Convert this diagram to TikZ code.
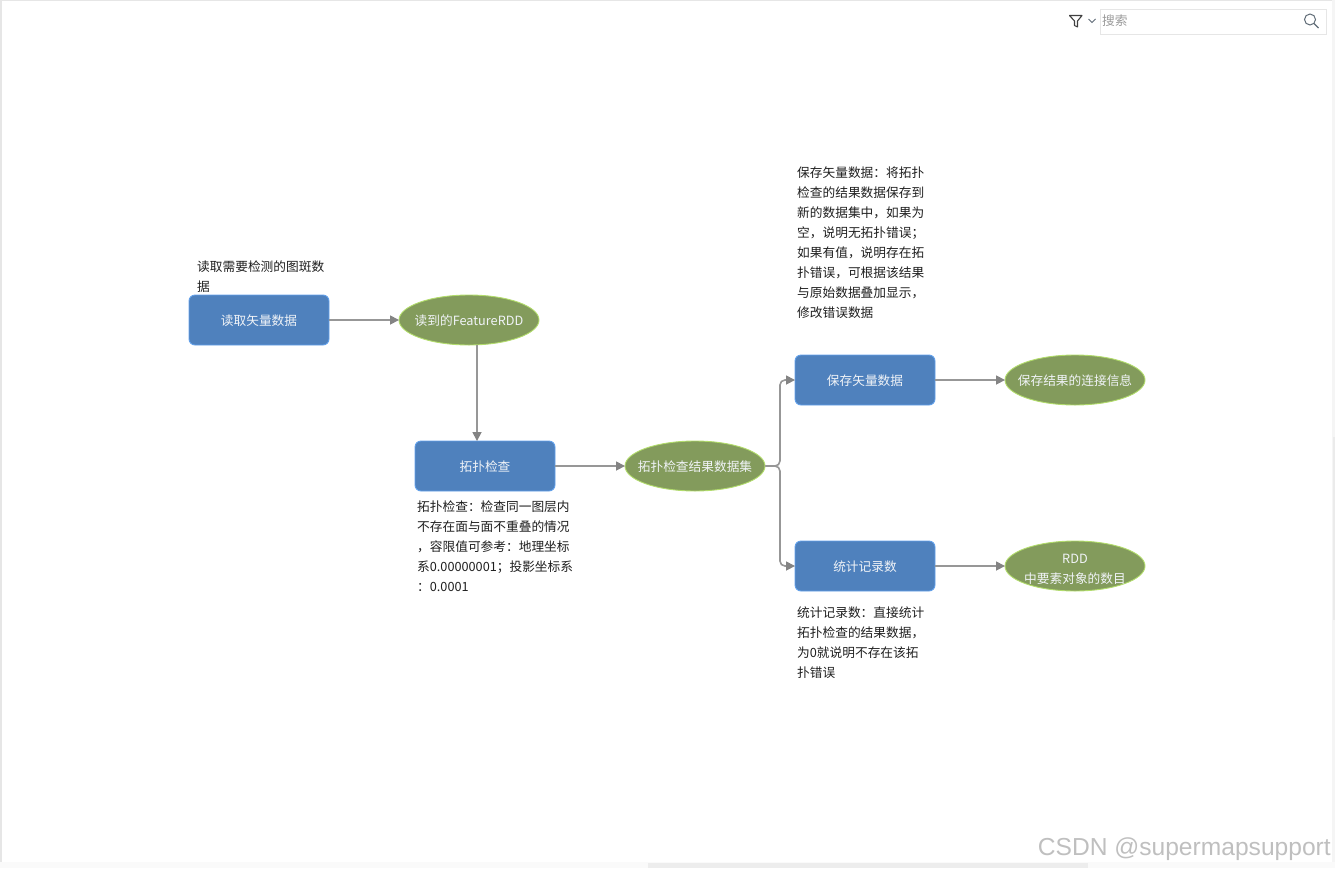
\documentclass[tikz,border=0pt]{standalone}
\usepackage{fontspec}
\setmainfont{Noto Sans CJK SC}
\newfontfamily\wmfont{Liberation Sans}
\usetikzlibrary{arrows.meta,shapes.geometric}
\definecolor{boxfill}{HTML}{4F81BD}
\definecolor{boxline}{HTML}{62A0EA}
\definecolor{ellfill}{HTML}{839B5C}
\definecolor{ellline}{HTML}{B2DC6C}
\definecolor{conn}{HTML}{979797}
\definecolor{tip}{HTML}{848484}
\definecolor{lab}{HTML}{F0F3F7}
\definecolor{note}{HTML}{1E1E1E}
\definecolor{chrome}{HTML}{E6E6E6}
\definecolor{toolgray}{HTML}{5F6B76}
\tikzset{
  every node/.style={font=\fontsize{12.7}{20}\selectfont},
  procbox/.style={draw=boxline,fill=boxfill,line width=0.9pt,rounded corners=6pt,
    minimum width=140pt,minimum height=50pt,inner sep=0pt,
    label={[text=lab,inner sep=0pt,yshift=-1pt]center:#1}},
  ellbase/.style={ellipse,draw=ellline,fill=ellfill,line width=0.9pt,
    minimum width=140pt,minimum height=50pt,inner sep=0pt},
  dataell/.style={ellbase,
    label={[text=lab,inner sep=0pt,align=center,yshift=-1pt]center:#1}},
  dataelllow/.style={ellbase,
    label={[text=lab,inner sep=0pt,align=center,yshift=-3pt]center:#1}},
  notetext/.style={anchor=north west,align=left,inner sep=0pt,text=note,text width=150pt},
  flow/.style={draw=conn,line width=1.6pt,rounded corners=5pt,
    -{Triangle[length=9pt,width=9pt,color=tip]},shorten >=-0.5pt},
}
\begin{document}
\begin{tikzpicture}[x=1pt,y=-1pt]
\useasboundingbox (0,0) rectangle (1335,868);
% window chrome
\fill[chrome] (0,0) rectangle (1335,1);
\fill[chrome] (0,0) rectangle (2,868);
\fill[black!4] (1332,0) rectangle (1335,868);
\fill[black!8] (1333,437) rectangle (1335,620);
\fill[black!2] (0,862) rectangle (1335,868);
\fill[black!7] (648,863) rectangle (1088,868);
% search bar
\node[draw=chrome,line width=1pt,minimum width=226pt,minimum height=25pt,inner sep=0pt] (search) at (1213.5,21.5) {};
\node[anchor=west,inner sep=0pt,text=black!40] (searchlabel) at (1102,21) {搜索};
\draw[toolgray,line width=1pt] (1310,19.5) circle (5.5);
\draw[toolgray,line width=1.1pt] (1314,23.5) -- (1318.5,28);
\draw[black!75,line width=1.1pt,line join=round] (1069.5,15.5) -- (1082,15.5) -- (1077.5,21) -- (1077.5,27) -- (1074.5,25.5) -- (1074.5,21) -- cycle;
\draw[toolgray,line width=0.9pt] (1088.5,19) -- (1092,22.5) -- (1095.5,19);
% nodes
\node[procbox={读取矢量数据}] (read) at (259,320) {};
\node[dataell={读到的FeatureRDD}] (rdd) at (469,320) {};
\node[procbox={拓扑检查}] (topo) at (485,466) {};
\node[dataell={拓扑检查结果数据集}] (result) at (695,466) {};
\node[procbox={保存矢量数据}] (save) at (865,380) {};
\node[dataell={保存结果的连接信息}] (conninfo) at (1075,380) {};
\node[procbox={统计记录数}] (count) at (865,566) {};
\node[dataelllow={RDD\\中要素对象的数目}] (number) at (1075,566) {};
% notes
\node[notetext] (n1) at (197,261) {读取需要检测的图斑数\\据};
\node[notetext] (n2) at (797,167) {保存矢量数据：将拓扑\\检查的结果数据保存到\\新的数据集中，如果为\\空，说明无拓扑错误；\\如果有值，说明存在拓\\扑错误，可根据该结果\\与原始数据叠加显示，\\修改错误数据};
\node[notetext] (n3) at (417,501) {拓扑检查：检查同一图层内\\不存在面与面不重叠的情况\\，容限值可参考：地理坐标\\系0.00000001；投影坐标系\\：0.0001};
\node[notetext] (n4) at (797,607) {统计记录数：直接统计\\拓扑检查的结果数据，\\为0就说明不存在该拓\\扑错误};
% connectors
\draw[flow] (read.east) -- (rdd.west);
\draw[flow] ([xshift=8pt]rdd.south) -- ([xshift=-8pt]topo.north);
\draw[flow] (topo.east) -- (result.west);
\draw[flow] (result.east) -- ++(14.5,0) |- (save.west);
\draw[flow] (result.east) -- ++(14.5,0) |- (count.west);
\draw[flow] (save.east) -- (conninfo.west);
\draw[flow] (count.east) -- (number.west);
% watermark
\node[anchor=base east,inner sep=0pt,text=black!25,font=\wmfont\fontsize{24.6}{25}\selectfont] (mark) at (1331,855.5) {CSDN @supermapsupport};
\end{tikzpicture}
\end{document}
